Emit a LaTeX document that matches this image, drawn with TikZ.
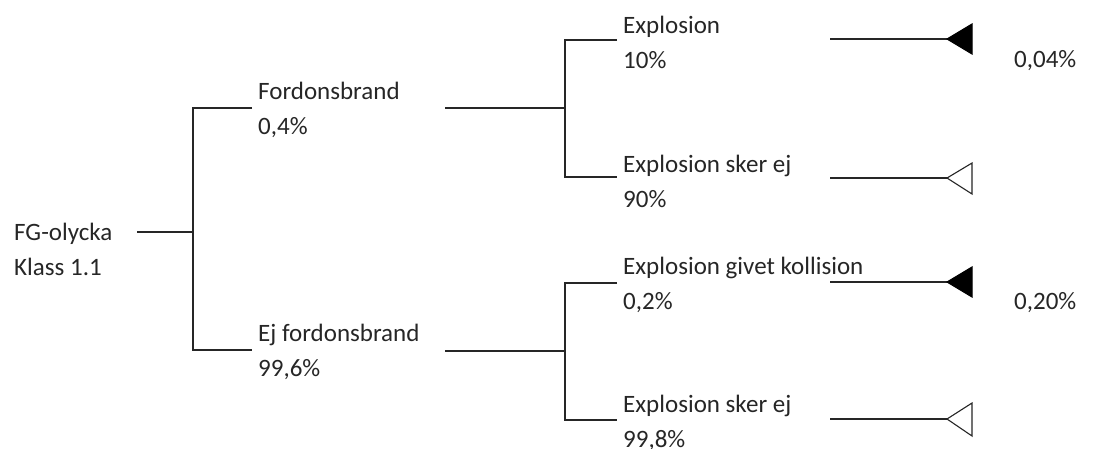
\documentclass[tikz,border=0pt]{standalone}
\usepackage{fontspec}
\setmainfont{Carlito}
\begin{document}
\begin{tikzpicture}[x=1pt,y=-1pt,
  lbl/.style={anchor=west, align=left, inner sep=0pt, text=black!85, font=\fontsize{25}{35}\selectfont},
  edge/.style={draw=black!85, line width=1.3pt},
  fulltri/.style={draw=black, fill=black, line width=1.1pt, line join=miter},
  opentri/.style={draw=black!85, fill=white, line width=1.1pt, line join=miter}]
\useasboundingbox (0,0) rectangle (1118,448);
% labels
\node[lbl] (root) at (14,249) {FG-olycka\\Klass 1.1};
\node[lbl] (fb) at (258,110) {Fordonsbrand\\0,4\%};
\node[lbl] (efb) at (258,352) {Ej fordonsbrand\\99,6\%};
\node[lbl] (ex1) at (623,42) {Explosion\\10\%};
\node[lbl] (nx1) at (623,181) {Explosion sker ej\\90\%};
\node[lbl] (ex2) at (623,285) {Explosion givet kollision\\0,2\%};
\node[lbl] (nx2) at (623,423) {Explosion sker ej\\99,8\%};
\node[lbl] (res1) at (1014,61) {0,04\%};
\node[lbl] (res2) at (1014,303) {0,20\%};
% junction coordinates
\coordinate (r0) at (137,232);
\coordinate (r1) at (193,232);
\coordinate (ja) at (193,108);
\coordinate (jb) at (193,350);
\coordinate (a1) at (252,108);
\coordinate (b1) at (252,350);
\coordinate (a2) at (445,108);
\coordinate (a3) at (565,108);
\coordinate (a4) at (565,40);
\coordinate (a5) at (565,177);
\coordinate (a6) at (617,40);
\coordinate (a7) at (617,177);
\coordinate (b2) at (445,351);
\coordinate (b3) at (565,351);
\coordinate (b4) at (565,283);
\coordinate (b5) at (565,420);
\coordinate (b6) at (617,283);
\coordinate (b7) at (617,420);
\coordinate (e1s) at (830,39);  \coordinate (e1t) at (947,39);
\coordinate (e2s) at (830,178); \coordinate (e2t) at (947,178);
\coordinate (e3s) at (830,282); \coordinate (e3t) at (947,282);
\coordinate (e4s) at (830,419); \coordinate (e4t) at (947,419);
% tree
\draw[edge] (r0) -- (r1);
\draw[edge] (a1) -- (ja) -- (jb) -- (b1);
\draw[edge] (a2) -- (a3);
\draw[edge] (a6) -- (a4) -- (a5) -- (a7);
\draw[edge] (b2) -- (b3);
\draw[edge] (b6) -- (b4) -- (b5) -- (b7);
% end branches
\draw[edge] (e1s) -- (e1t);
\draw[edge] (e2s) -- (e2t);
\draw[edge] (e3s) -- (e3t);
\draw[edge] (e4s) -- (e4t);
\draw[fulltri] (e1t) -- ++(25,-15) -- ++(0,30) -- cycle;
\draw[opentri] (e2t) -- ++(25,-15) -- ++(0,31) -- cycle;
\draw[fulltri] (e3t) -- ++(25,-15) -- ++(0,30) -- cycle;
\draw[opentri] (e4t) -- ++(25,-16) -- ++(0,33) -- cycle;
\end{tikzpicture}
\end{document}
